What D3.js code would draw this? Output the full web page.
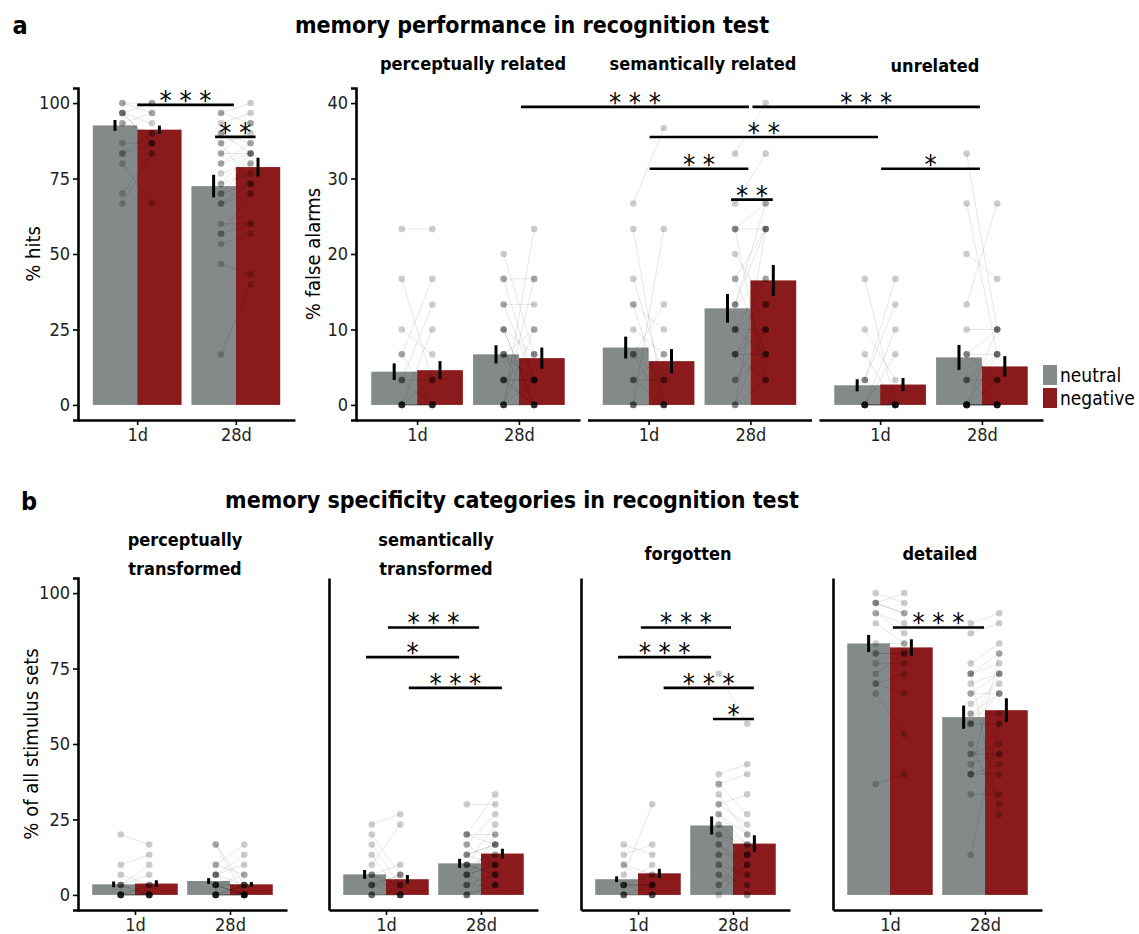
<!DOCTYPE html>
<html>
<head>
<meta charset="utf-8">
<script src="https://cdn.jsdelivr.net/npm/d3@7"></script>
<style>
  body { margin: 0; background: #fff; }
  svg text { font-family: 'DejaVu Sans Condensed', 'DejaVu Sans', sans-serif; }
</style>
</head>
<body>
<div id="chart"></div>
<script>
// memory performance / specificity bar charts with per-subject points

var days = ["1d", "28d"];
var valences = ["neutral", "negative"];
var colors = ["#838a89", "#8a1a1b"];

// bar means [day][valence] and error half-widths
var hitsMean = [[92.6, 91.2], [72.5, 78.8]];
var hitsErr  = [[1.8, 1.35], [3.75, 3.1]];
var faPercMean = [[4.4, 4.6], [6.7, 6.2]];
var faPercErr  = [[1.1, 1.2], [1.2, 1.4]];
var faSemMean = [[7.6, 5.8], [12.8, 16.5]];
var faSemErr  = [[1.45, 1.6], [1.9, 2.05]];
var faUnrelMean = [[2.6, 2.7], [6.3, 5.1]];
var faUnrelErr  = [[0.8, 0.87], [1.65, 1.36]];
var spPercMean = [[3.5, 3.75], [4.6, 3.5]];
var spPercErr  = [[0.95, 1.1], [0.95, 0.75]];
var spSemMean = [[6.8, 5.2], [10.45, 13.7]];
var spSemErr  = [[1.45, 1.4], [1.5, 1.6]];
var spForgMean = [[5.2, 7.15], [23, 17]];
var spForgErr  = [[0.95, 1.5], [3, 2.75]];
var spDetMean = [[83.3, 82], [58.9, 61.2]];
var spDetErr  = [[2.85, 2.7], [3.85, 3.95]];

// individual subjects [day][valence][subject], neutral/negative paired by index
var hitsPts = [
  [[100, 100, 96.7, 96.7, 96.7, 93.3, 93.3, 86.7, 83.3, 83.3, 80, 70, 66.7, 96.7],
   [100, 96.7, 100, 93.3, 86.7, 96.7, 90, 86.7, 90, 86.7, 66.7, 83.3, 83.3, 86.7]],
  [[96.7, 96.7, 93.3, 90, 86.7, 83.3, 83.3, 80, 80, 76.7, 73.3, 73.3, 70, 70, 66.7, 66.7, 60, 56.7, 56.7, 53.3, 46.7, 16.7, 90, 86.7],
   [100, 93.3, 96.7, 86.7, 90, 83.3, 93.3, 83.3, 86.7, 80, 83.3, 76.7, 73.3, 80, 70, 73.3, 60, 70, 60, 56.7, 43.3, 40, 83.3, 73.3]]
];
var faPercPts = [
  [[23.3, 16.7, 10, 6.7, 6.7, 3.3, 3.3, 3.3, 0, 0, 0, 0, 0, 0, 0, 0],
   [23.3, 3.3, 6.7, 0, 16.7, 13.3, 0, 3.3, 10, 3.3, 0, 0, 0, 0, 0, 0]],
  [[20, 16.7, 16.7, 13.3, 13.3, 10, 10, 6.7, 6.7, 6.7, 6.7, 3.3, 3.3, 3.3, 3.3, 3.3, 0, 0, 0, 0, 0, 0, 0, 10],
   [6.7, 16.7, 3.3, 13.3, 3.3, 0, 6.7, 10, 3.3, 0, 3.3, 0, 6.7, 3.3, 0, 3.3, 23.3, 16.7, 0, 10, 0, 3.3, 0, 0]]
];
var faSemPts = [
  [[26.7, 23.3, 16.7, 13.3, 13.3, 10, 6.7, 6.7, 6.7, 3.3, 3.3, 3.3, 0, 0, 0, 0],
   [36.7, 0, 3.3, 10, 0, 6.7, 13.3, 3.3, 0, 6.7, 3.3, 0, 23.3, 0, 0, 0]],
  [[33.3, 26.7, 23.3, 23.3, 20, 16.7, 13.3, 13.3, 10, 10, 10, 10, 6.7, 6.7, 6.7, 6.7, 3.3, 3.3, 0, 0, 0, 13.3, 16.7, 23.3],
   [40, 33.3, 23.3, 26.7, 13.3, 23.3, 16.7, 23.3, 10, 13.3, 6.7, 16.7, 13.3, 10, 3.3, 6.7, 10, 6.7, 3.3, 23.3, 10, 26.7, 6.7, 3.3]]
];
var faUnrelPts = [
  [[16.7, 10, 6.7, 3.3, 3.3, 3.3, 0, 0, 0, 0, 0, 0, 0, 0, 0, 0],
   [0, 3.3, 0, 16.7, 13.3, 0, 10, 6.7, 0, 0, 0, 0, 0, 0, 0, 0]],
  [[33.3, 26.7, 20, 13.3, 10, 6.7, 6.7, 6.7, 3.3, 3.3, 3.3, 0, 0, 0, 0, 0, 0, 0, 0, 0, 0, 0, 0, 0],
   [10, 6.7, 16.7, 26.7, 10, 6.7, 10, 3.3, 3.3, 0, 6.7, 0, 10, 0, 3.3, 0, 0, 0, 6.7, 0, 0, 0, 0, 0]]
];
var spPercPts = [
  [[20, 10, 6.7, 3.3, 3.3, 3.3, 3.3, 0, 0, 0, 0, 0, 0, 0, 0, 0],
   [16.7, 13.3, 3.3, 10, 0, 6.7, 0, 3.3, 3.3, 0, 0, 0, 0, 0, 0, 0]],
  [[16.7, 16.7, 10, 10, 6.7, 6.7, 6.7, 6.7, 3.3, 3.3, 3.3, 3.3, 3.3, 3.3, 3.3, 0, 0, 0, 0, 0, 0, 0, 0, 0],
   [3.3, 0, 16.7, 6.7, 13.3, 0, 3.3, 10, 0, 3.3, 6.7, 0, 3.3, 0, 0, 3.3, 3.3, 0, 0, 0, 0, 0, 0, 0]]
];
var spSemPts = [
  [[23.3, 20, 16.7, 13.3, 10, 6.7, 6.7, 6.7, 3.3, 3.3, 3.3, 3.3, 0, 0, 0, 0],
   [26.7, 6.7, 3.3, 0, 23.3, 10, 3.3, 0, 6.7, 0, 3.3, 6.7, 0, 0, 0, 0]],
  [[30, 20, 20, 16.7, 13.3, 13.3, 10, 10, 10, 6.7, 6.7, 6.7, 6.7, 3.3, 3.3, 3.3, 0, 0, 0, 0, 20, 16.7, 13.3, 10],
   [30, 16.7, 33.3, 26.7, 16.7, 10, 23.3, 13.3, 6.7, 10, 16.7, 3.3, 10, 6.7, 20, 3.3, 6.7, 3.3, 13.3, 3.3, 20, 10, 16.7, 6.7]]
];
var spForgPts = [
  [[16.7, 13.3, 10, 6.7, 3.3, 3.3, 3.3, 3.3, 3.3, 3.3, 10, 0, 0, 0, 0, 0],
   [13.3, 16.7, 6.7, 30, 3.3, 10, 3.3, 0, 6.7, 3.3, 3.3, 0, 0, 0, 3.3, 0]],
  [[73.3, 40, 36.7, 33.3, 30, 26.7, 23.3, 20, 20, 16.7, 16.7, 13.3, 13.3, 10, 10, 6.7, 6.7, 3.3, 3.3, 0, 36.7, 30, 26.7, 23.3],
   [56.7, 43.3, 26.7, 20, 33.3, 16.7, 13.3, 13.3, 16.7, 10, 6.7, 3.3, 13.3, 0, 6.7, 3.3, 0, 10, 13.3, 10, 40, 23.3, 20, 16.7]]
];
var spDetPts = [
  [[100, 96.7, 96.7, 93.3, 93.3, 90, 83.3, 80, 80, 76.7, 73.3, 70, 70, 66.7, 36.7, 96.7],
   [96.7, 100, 93.3, 90, 86.7, 83.3, 83.3, 80, 80, 76.7, 80, 73.3, 66.7, 53.3, 40, 93.3]],
  [[90, 86.7, 76.7, 73.3, 73.3, 70, 66.7, 63.3, 60, 56.7, 56.7, 46.7, 43.3, 40, 40, 33.3, 13.3, 73.3, 56.7, 66.7, 50, 46.7, 60, 40],
   [93.3, 90, 83.3, 80, 76.7, 73.3, 73.3, 70, 66.7, 66.7, 56.7, 50, 46.7, 43.3, 40, 33.3, 56.7, 26.7, 73.3, 66.7, 30, 46.7, 60, 80]]
];

var pctTicks = [0, 25, 50, 75, 100];
var faTicks = [0, 10, 20, 30, 40];

// significance brackets: [facet, x in day units] -> [facet, x], y value, label
var sigHits = [
  {from: [0, 1.0], to: [0, 1.98], y: 99.4, label: "* * *"},
  {from: [0, 1.79], to: [0, 2.2], y: 88.8, label: "* *"}
];
var sigFA = [
  {from: [0, 2.02], to: [1, 1.985], y: 39.5, label: "* * *"},
  {from: [1, 2.02], to: [2, 1.98], y: 39.5, label: "* * *"},
  {from: [1, 1.01], to: [2, 0.98], y: 35.5, label: "* *"},
  {from: [1, 1.01], to: [1, 1.98], y: 31.3, label: "* *"},
  {from: [1, 1.81], to: [1, 2.22], y: 27.2, label: "* *"},
  {from: [2, 1.01], to: [2, 1.98], y: 31.3, label: "*"}
];
var sigSpec = [
  {from: [1, 1.02], to: [1, 1.98], y: 88.6, label: "* * *"},
  {from: [1, 0.79], to: [1, 1.77], y: 78.8, label: "*"},
  {from: [1, 1.24], to: [1, 2.22], y: 68.6, label: "* * *"},
  {from: [2, 1.03], to: [2, 1.98], y: 88.6, label: "* * *"},
  {from: [2, 0.79], to: [2, 1.77], y: 78.8, label: "* * *"},
  {from: [2, 1.27], to: [2, 2.22], y: 68.6, label: "* * *"},
  {from: [2, 1.79], to: [2, 2.22], y: 58.3, label: "*"},
  {from: [3, 1.03], to: [3, 1.99], y: 88.6, label: "* * *"}
];

var svg = d3.select("#chart").append("svg")
  .attr("width", 1139)
  .attr("height", 934);

var tickFont = 18, titleFont = 23, facetFont = 18;

function makeX(x0, w) {
  return d3.scalePoint().domain(days).range([x0, x0 + w]).padding(0.6);
}

// one facet: bars, subject lines/points, error bars
function drawFacet(x, y, means, errs, pts) {
  var g = svg.append("g");
  var step = x.step();
  var barW = 0.45 * step;
  var flat = [];
  days.forEach(function(d, di) {
    valences.forEach(function(v, vi) {
      flat.push({day: d, di: di, vi: vi, m: means[di][vi], e: errs[di][vi]});
    });
  });

  g.selectAll("rect.bar")
    .data(flat)
    .enter().append("rect")
      .attr("class", "bar")
      .attr("x", function(d) { return x(d.day) + (d.vi - 1) * barW; })
      .attr("width", barW)
      .attr("y", function(d) { return y(d.m); })
      .attr("height", function(d) { return y(0) - y(d.m); })
      .style("fill", function(d) { return colors[d.vi]; });

  // subject lines
  var pairs = [];
  days.forEach(function(d, di) {
    pts[di][0].forEach(function(val, si) {
      pairs.push({day: d, a: val, b: pts[di][1][si]});
    });
  });
  g.selectAll("line.subj")
    .data(pairs)
    .enter().append("line")
      .attr("x1", function(d) { return x(d.day) - 0.15 * step; })
      .attr("x2", function(d) { return x(d.day) + 0.15 * step; })
      .attr("y1", function(d) { return y(d.a); })
      .attr("y2", function(d) { return y(d.b); })
      .style("stroke", "#000")
      .style("stroke-opacity", 0.11)
      .style("stroke-width", 0.9);

  var dots = [];
  days.forEach(function(d, di) {
    [0, 1].forEach(function(vi) {
      pts[di][vi].forEach(function(val) { dots.push({day: d, vi: vi, v: val}); });
    });
  });
  g.selectAll("circle.pt")
    .data(dots)
    .enter().append("circle")
      .attr("cx", function(d) { return x(d.day) + (d.vi ? 0.15 : -0.15) * step; })
      .attr("cy", function(d) { return y(d.v); })
      .attr("r", 3.3)
      .style("fill", "#000")
      .style("fill-opacity", 0.2);

  g.selectAll("line.err")
    .data(flat)
    .enter().append("line")
      .attr("x1", function(d) { return x(d.day) + (d.vi - 0.5) * barW; })
      .attr("x2", function(d) { return x(d.day) + (d.vi - 0.5) * barW; })
      .attr("y1", function(d) { return y(d.m - d.e); })
      .attr("y2", function(d) { return y(d.m + d.e); })
      .style("stroke", "#000")
      .style("stroke-width", 3);
}

function xAxis(x, yPos) {
  var ax = svg.append("g")
    .attr("transform", "translate(0," + yPos + ")")
    .call(d3.axisBottom(x).tickSize(5).tickSizeOuter(0).tickPadding(3));
  ax.select(".domain").style("stroke-width", 2.6).style("stroke", "#000");
  ax.selectAll(".tick line").style("stroke-width", 1.6).style("stroke", "#000");
  ax.selectAll("text").style("font-size", tickFont + "px").style("fill", "#222");
}

function yAxis(y, xPos, ticks) {
  var a = d3.axisLeft(y).tickSizeOuter(0);
  if (ticks) a.tickValues(ticks).tickSize(5).tickPadding(3);
  else a.tickValues([]);
  var ax = svg.append("g")
    .attr("transform", "translate(" + xPos + ",0)")
    .call(a);
  ax.select(".domain").style("stroke-width", 2.6).style("stroke", "#000");
  ax.selectAll(".tick line").style("stroke-width", 1.6).style("stroke", "#000");
  ax.selectAll("text").style("font-size", tickFont + "px").style("fill", "#222");
}

function sigBars(list, xs, y) {
  function px(p) { var x = xs[p[0]]; return x(days[0]) + (p[1] - 1) * x.step(); }
  list.forEach(function(s) {
    var x1 = px(s.from), x2 = px(s.to);
    svg.append("line")
      .attr("x1", x1).attr("x2", x2)
      .attr("y1", y(s.y)).attr("y2", y(s.y))
      .style("stroke", "#000").style("stroke-width", 2.6);
    svg.append("text")
      .attr("x", (x1 + x2) / 2)
      .attr("y", y(s.y) + 5)
      .attr("text-anchor", "middle")
      .style("font-size", "27px")
      .text(s.label);
  });
}

function label(x, y, txt, size, weight, anchor) {
  svg.append("text")
    .attr("x", x).attr("y", y)
    .attr("text-anchor", anchor || "middle")
    .style("font-size", size + "px")
    .style("font-weight", weight)
    .text(txt);
}

function yTitle(x, y, txt) {
  svg.append("text")
    .attr("transform", "translate(" + x + "," + y + ") rotate(-90)")
    .attr("text-anchor", "middle")
    .style("font-size", "20px")
    .text(txt);
}

// ---------- panel a ----------
var aTop = 88, aBot = 420;
var yHits = d3.scaleLinear().domain([-5, 105]).range([aBot, aTop]);
var xHits = makeX(78, 217);
drawFacet(xHits, yHits, hitsMean, hitsErr, hitsPts);
xAxis(xHits, aBot);
yAxis(yHits, 78, pctTicks);
sigBars(sigHits, [xHits], yHits);
yTitle(40, 254, "% hits");

var yFA = d3.scaleLinear().domain([-2, 42]).range([aBot, aTop]);
var faX0 = [356, 587.5, 819];
var xFA = faX0.map(function(x0) { return makeX(x0, 224); });
drawFacet(xFA[0], yFA, faPercMean, faPercErr, faPercPts);
drawFacet(xFA[1], yFA, faSemMean, faSemErr, faSemPts);
drawFacet(xFA[2], yFA, faUnrelMean, faUnrelErr, faUnrelPts);
xFA.forEach(function(x) { xAxis(x, aBot); });
yAxis(yFA, 356, faTicks);
sigBars(sigFA, xFA, yFA);
yTitle(320, 254, "% false alarms");

label(20, 34, "a", titleFont + 2, "bold");
label(532, 33, "memory performance in recognition test", titleFont, "bold");
label(473, 70, "perceptually related", facetFont, "bold");
label(703, 70, "semantically related", facetFont, "bold");
label(935, 72, "unrelated", facetFont, "bold");

// legend
valences.forEach(function(v, i) {
  svg.append("rect")
    .attr("x", 1043).attr("y", 365 + i * 23)
    .attr("width", 14).attr("height", 20)
    .style("fill", colors[i]);
  label(1060, 382 + i * 23, v, 19, "normal", "start");
});

// ---------- panel b ----------
var bTop = 578, bBot = 910;
var ySp = d3.scaleLinear().domain([-5, 105]).range([bBot, bTop]);
var spX0 = [78, 329, 581, 833];
var xSp = spX0.map(function(x0) { return makeX(x0, 209); });
drawFacet(xSp[0], ySp, spPercMean, spPercErr, spPercPts);
drawFacet(xSp[1], ySp, spSemMean, spSemErr, spSemPts);
drawFacet(xSp[2], ySp, spForgMean, spForgErr, spForgPts);
drawFacet(xSp[3], ySp, spDetMean, spDetErr, spDetPts);
xSp.forEach(function(x, i) {
  xAxis(x, bBot);
  yAxis(ySp, spX0[i], i === 0 ? pctTicks : null);
});
sigBars(sigSpec, xSp, ySp);
yTitle(38, 744, "% of all stimulus sets");

label(29, 510, "b", titleFont + 2, "bold");
label(512, 508, "memory specificity categories in recognition test", titleFont, "bold");
label(185, 546, "perceptually", facetFont, "bold");
label(185, 575, "transformed", facetFont, "bold");
label(436, 546, "semantically", facetFont, "bold");
label(436, 575, "transformed", facetFont, "bold");
label(688, 560, "forgotten", facetFont, "bold");
label(940, 560, "detailed", facetFont, "bold");
</script>
</body>
</html>
